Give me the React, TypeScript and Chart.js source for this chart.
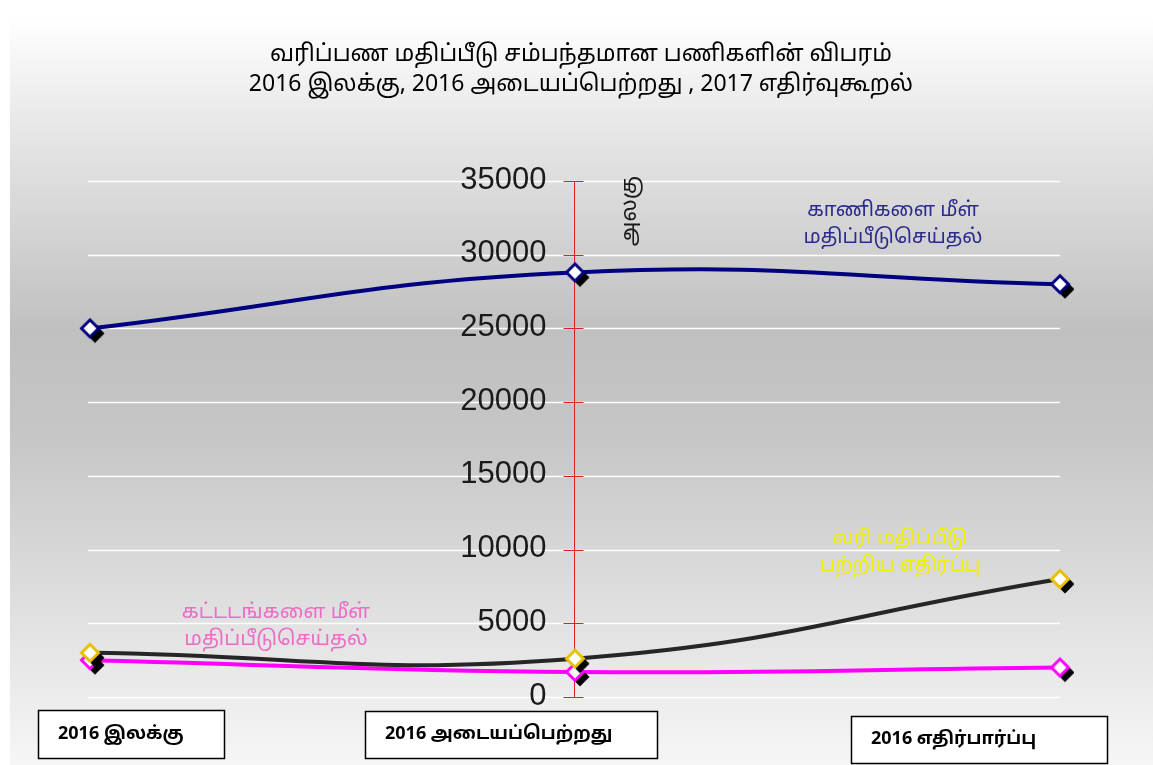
import React, { useEffect, useRef } from "react";
import { Chart, registerables } from "chart.js";
Chart.register(...registerables);

const categories = ["2016 இலக்கு", "2016 அடையப்பெற்றது", "2016 எதிர்பார்ப்பு"];
const landValues = [25000, 28800, 28000];
const objectionValues = [3000, 2600, 8000];
const buildingValues = [2500, 1700, 2000];
const yTickValues = [0, 5000, 10000, 15000, 20000, 25000, 30000, 35000];
const titleLines = ["வரிப்பண மதிப்பீடு சம்பந்தமான பணிகளின் விபரம்", "2016 இலக்கு, 2016 அடையப்பெற்றது , 2017 எதிர்வுகூறல்"];
const axisTitle = "அலகு";
const landLabel = ["காணிகளை மீள்", "மதிப்பீடுசெய்தல்"];
const buildingLabel = ["கட்டடங்களை மீள்", "மதிப்பீடுசெய்தல்"];
const objectionLabel = ["வரி மதிப்பீடு", "பற்றிய எதிர்ப்பு"];

const TAMIL = "'Noto Sans Tamil', 'Latha', 'Noto Sans', 'DejaVu Sans', sans-serif";

function makeMarker(border: string) {
  const c = document.createElement("canvas");
  const s = 40;
  c.width = s;
  c.height = s;
  const ctx = c.getContext("2d")!;
  const diamond = (x: number, y: number, r: number) => {
    ctx.beginPath();
    ctx.moveTo(x, y - r);
    ctx.lineTo(x + r, y);
    ctx.lineTo(x, y + r);
    ctx.lineTo(x - r, y);
    ctx.closePath();
  };
  diamond(s / 2 + 5, s / 2 + 5, 9.5);
  ctx.fillStyle = "#000";
  ctx.fill();
  diamond(s / 2, s / 2, 8.5);
  ctx.fillStyle = "#fff";
  ctx.fill();
  ctx.lineWidth = 3;
  ctx.strokeStyle = border;
  ctx.stroke();
  return c;
}

const decor = {
  id: "decor",
  beforeDraw(chart: any) {
    const { ctx, width, height } = chart;
    ctx.save();
    ctx.fillStyle = "#ffffff";
    ctx.fillRect(0, 0, width, height);
    const g = ctx.createLinearGradient(0, 18, 0, height);
    g.addColorStop(0, "#ffffff");
    g.addColorStop(0.12, "#ebebeb");
    g.addColorStop(0.42, "#c0c0c0");
    g.addColorStop(0.56, "#c6c6c6");
    g.addColorStop(0.85, "#e6e6e6");
    g.addColorStop(1, "#f6f6f6");
    ctx.fillStyle = g;
    ctx.fillRect(10, 18, width - 10, height - 18);
    ctx.restore();
  },
  beforeDatasetsDraw(chart: any) {
    const { ctx, chartArea } = chart;
    const y = chart.scales.y;
    const x = chart.scales.x;
    ctx.save();
    ctx.strokeStyle = "#ffffff";
    ctx.lineWidth = 1.5;
    yTickValues.forEach((v) => {
      const py = Math.round(y.getPixelForValue(v)) + 0.5;
      ctx.beginPath();
      ctx.moveTo(chartArea.left - 2, py);
      ctx.lineTo(chartArea.right, py);
      ctx.stroke();
    });
    const ax = Math.round(x.getPixelForValue(1)) - 0.5;
    ctx.strokeStyle = "#e02020";
    ctx.lineWidth = 1;
    ctx.beginPath();
    ctx.moveTo(ax, y.getPixelForValue(35000));
    ctx.lineTo(ax, y.getPixelForValue(0));
    ctx.stroke();
    yTickValues.forEach((v) => {
      const py = Math.round(y.getPixelForValue(v)) + 0.5;
      ctx.beginPath();
      ctx.moveTo(ax - 11, py);
      ctx.lineTo(ax + 9, py);
      ctx.stroke();
    });
    ctx.fillStyle = "#1a1a1a";
    ctx.font = "31px 'Liberation Sans', Arial, sans-serif";
    ctx.textAlign = "right";
    ctx.textBaseline = "middle";
    yTickValues.forEach((v) => {
      ctx.fillText(String(v), ax - 28, y.getPixelForValue(v) - 1);
    });
    ctx.save();
    ctx.translate(ax + 57, y.getPixelForValue(35000) + 30);
    ctx.rotate(-Math.PI / 2);
    ctx.font = "22px " + TAMIL;
    ctx.textAlign = "center";
    ctx.textBaseline = "middle";
    ctx.fillStyle = "#1a1a1a";
    ctx.fillText(axisTitle, 0, 0);
    ctx.restore();
    const drawLines = (lines: string[], cx: number, cy: number, color: string, size: number) => {
      ctx.font = size + "px " + TAMIL;
      ctx.fillStyle = color;
      ctx.textAlign = "center";
      ctx.textBaseline = "middle";
      lines.forEach((l, i) => ctx.fillText(l, cx, cy + i * 27));
    };
    drawLines(landLabel, 893, 212, "#2b2b8c", 20);
    drawLines(buildingLabel, 276, 614, "#ec6cc8", 20.5);
    drawLines(objectionLabel, 900, 540, "#f0f000", 20);
    ctx.restore();
  },
  afterDatasetsDraw(chart: any) {
    const { ctx } = chart;
    ctx.save();
    ctx.fillStyle = "#000";
    ctx.textAlign = "center";
    ctx.textBaseline = "middle";
    ctx.font = "23px " + TAMIL;
    ctx.fillText(titleLines[0], 581, 56);
    ctx.fillText(titleLines[1], 581, 86);
    const boxes = [
      [38, 710, 186, 48],
      [365, 711, 292, 47],
      [851, 716, 256, 47],
    ];
    categories.forEach((c, i) => {
      const [bx, by, bw, bh] = boxes[i];
      ctx.fillStyle = "#ffffff";
      ctx.fillRect(bx, by, bw, bh);
      ctx.strokeStyle = "#000";
      ctx.lineWidth = 1.5;
      ctx.strokeRect(bx + 0.5, by + 0.5, bw, bh);
      ctx.fillStyle = "#000";
      ctx.font = "bold 18px " + TAMIL;
      ctx.textAlign = "left";
      ctx.fillText(c, bx + 20, by + bh / 2 + 1);
    });
    ctx.restore();
  },
};

export default function App() {
  const ref = useRef<HTMLCanvasElement>(null);
  useEffect(() => {
    if (!ref.current) return;
    const chart = new Chart(ref.current, {
      type: "line",
      data: {
        labels: categories,
        datasets: [
          {
            label: landLabel.join(" "),
            data: landValues,
            borderColor: "#000080",
            borderWidth: 4,
            tension: 0.45,
            pointStyle: makeMarker("#000080") as any,
            pointRadius: 10,
          },
          {
            label: objectionLabel.join(" "),
            data: objectionValues,
            borderColor: "#262626",
            borderWidth: 4,
            tension: 0.45,
            pointStyle: makeMarker("#e8c000") as any,
            pointRadius: 10,
          },
          {
            label: buildingLabel.join(" "),
            data: buildingValues,
            borderColor: "#ff00ff",
            borderWidth: 4,
            tension: 0.45,
            pointStyle: makeMarker("#ff00ff") as any,
            pointRadius: 10,
          },
        ],
      },
      options: {
        responsive: false,
        animation: false,
        layout: { padding: { left: 90, right: 93, top: 181, bottom: 68 } },
        plugins: { legend: { display: false }, tooltip: { enabled: false }, title: { display: false } },
        scales: {
          x: { display: false, offset: false },
          y: { display: false, min: 0, max: 35000 },
        },
      },
      plugins: [decor],
    });
    return () => chart.destroy();
  }, []);
  return (
    <div style={{ position: "absolute", left: 0, top: 0, width: 1153, height: 765 }}>
      <canvas ref={ref} width={1153} height={765} style={{ width: 1153, height: 765 }} />
    </div>
  );
}
